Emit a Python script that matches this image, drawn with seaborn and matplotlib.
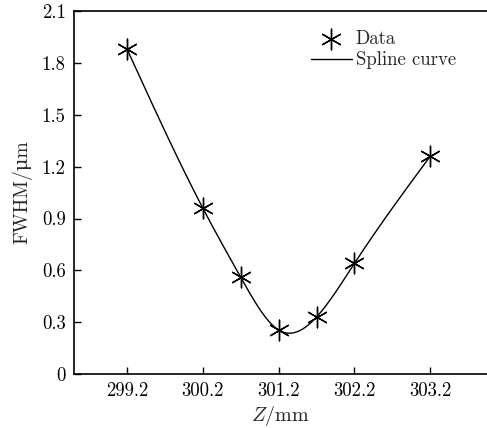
import numpy as np
import pandas as pd
import matplotlib
matplotlib.use("Agg")
import matplotlib.pyplot as plt
import seaborn as sns

# Data
z_mm = [299.2, 300.2, 300.7, 301.2, 301.7, 302.2, 303.2]
fwhm_um = [1.88, 0.96, 0.56, 0.255, 0.33, 0.64, 1.26]
x_ticks = [299.2, 300.2, 301.2, 302.2, 303.2]
y_ticks = [0, 0.3, 0.6, 0.9, 1.2, 1.5, 1.8, 2.1]
y_tick_labels = ["0", "0.3", "0.6", "0.9", "1.2", "1.5", "1.8", "2.1"]


def natural_cubic_spline(x, y, xs):
    x = np.asarray(x, float)
    y = np.asarray(y, float)
    n = len(x)
    h = np.diff(x)
    A = np.zeros((n, n))
    b = np.zeros(n)
    A[0, 0] = 1
    A[-1, -1] = 1
    for i in range(1, n - 1):
        A[i, i - 1] = h[i - 1]
        A[i, i] = 2 * (h[i - 1] + h[i])
        A[i, i + 1] = h[i]
        b[i] = 3 * ((y[i + 1] - y[i]) / h[i] - (y[i] - y[i - 1]) / h[i - 1])
    c = np.linalg.solve(A, b)
    bb = np.zeros(n - 1)
    d = np.zeros(n - 1)
    for i in range(n - 1):
        bb[i] = (y[i + 1] - y[i]) / h[i] - h[i] * (2 * c[i] + c[i + 1]) / 3
        d[i] = (c[i + 1] - c[i]) / (3 * h[i])
    idx = np.clip(np.searchsorted(x, xs) - 1, 0, n - 2)
    dx = xs - x[idx]
    return y[idx] + bb[idx] * dx + c[idx] * dx ** 2 + d[idx] * dx ** 3


sns.set_theme(style="ticks")
plt.rcParams["font.family"] = ["cmr10", "DejaVu Serif"]
plt.rcParams["mathtext.fontset"] = "cm"
plt.rcParams["axes.unicode_minus"] = False

df = pd.DataFrame({"z": z_mm, "fwhm": fwhm_um})
xs = np.linspace(min(z_mm), max(z_mm), 400)
spline = pd.DataFrame({"z": xs, "fwhm": natural_cubic_spline(z_mm, fwhm_um, xs)})

fig = plt.figure(figsize=(4.87, 4.28), dpi=100)
ax = fig.add_axes([0.152, 0.126, 0.848, 0.848])

sns.lineplot(data=spline, x="z", y="fwhm", ax=ax, color="black", lw=1.0,
             label="Spline curve", zorder=2)
sns.scatterplot(data=df, x="z", y="fwhm", ax=ax, marker=(6, 2, 0), s=220,
                color="black", linewidth=1.0, label="Data", zorder=3)

ax.set_xlim(298.5, 303.95)
ax.set_ylim(0, 2.1)
ax.set_xticks(x_ticks)
ax.set_xticklabels([f"{v:.1f}" for v in x_ticks])
ax.set_yticks(y_ticks)
ax.set_yticklabels(y_tick_labels)
ax.tick_params(axis="both", direction="in", length=5, width=1.0, labelsize=13.5,
               colors="black", pad=6)
for s in ["left", "top", "bottom"]:
    ax.spines[s].set_linewidth(1.2)
    ax.spines[s].set_color("black")
ax.spines["right"].set_visible(False)

ax.set_xlabel(r"$Z$/mm", fontsize=14.5, labelpad=3)
ax.set_ylabel("FWHM/\u03bcm", fontsize=14, labelpad=7)

handles, labels = ax.get_legend_handles_labels()
order = [labels.index("Data"), labels.index("Spline curve")]
ax.legend([handles[i] for i in order], [labels[i] for i in order],
          loc="upper right", bbox_to_anchor=(0.965, 0.995), frameon=False,
          fontsize=13.5, handlelength=2.2, handletextpad=0.2, labelspacing=0.2)

fig.savefig("out.png", dpi=100)
